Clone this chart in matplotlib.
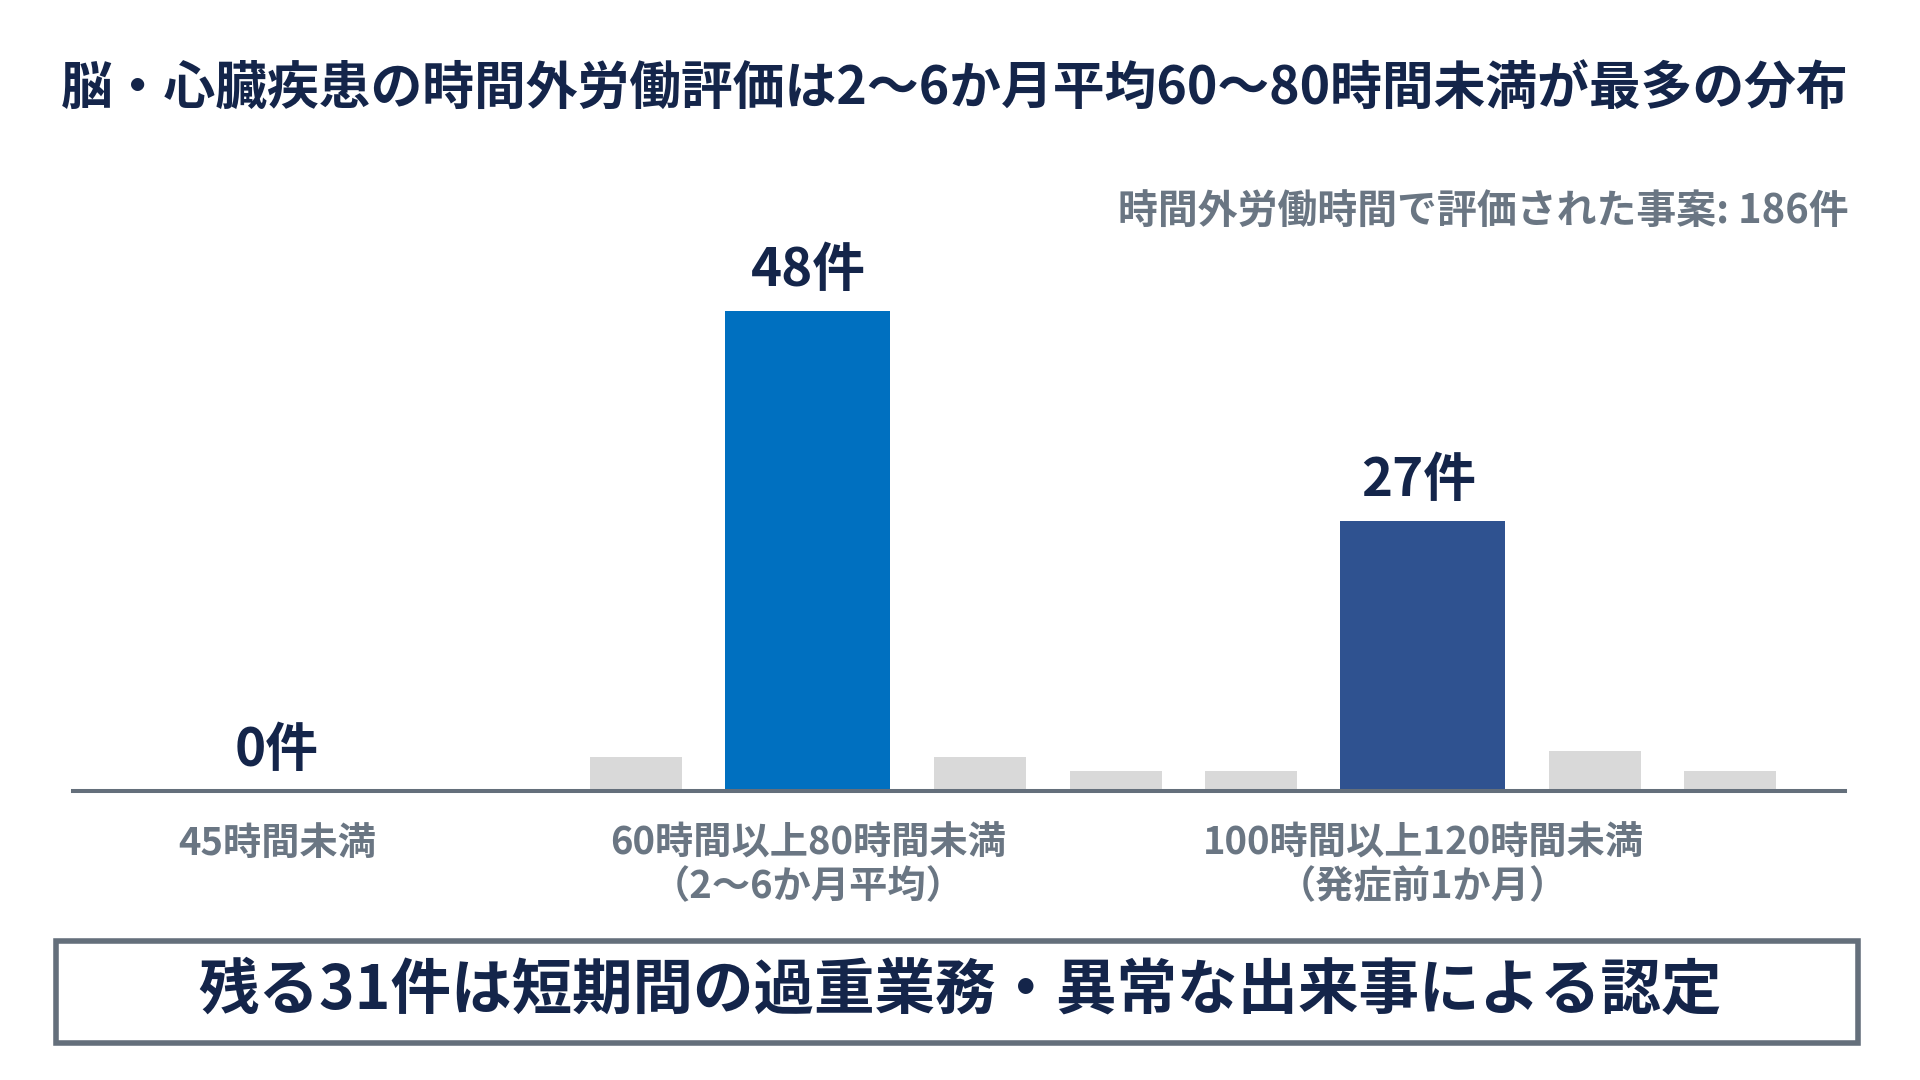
import matplotlib

matplotlib.use("Agg")
import matplotlib.pyplot as plt  # noqa: E402
from matplotlib.patches import Rectangle  # noqa: E402

# --- data -------------------------------------------------------------------
BAR_VALUES = [0, 3.4, 48, 3.4, 2.0, 2.0, 27, 4.0, 2.0]
BAR_ROLE = ["main", "ctx", "main", "ctx", "ctx", "ctx", "main", "ctx", "ctx"]
CATEGORY_LABELS = [
    "45時間未満",
    "60時間以上80時間未満\n（2〜6か月平均）",
    "100時間以上120時間未満\n（発症前1か月）",
]
TITLE = "脳・心臓疾患の時間外労働評価は2〜6か月平均60〜80時間未満が最多の分布"
SUBTITLE = "時間外労働時間で評価された事案: 186件"
FOOTER = "残る31件は短期間の過重業務・異常な出来事による認定"

# --- style ------------------------------------------------------------------
W, H = 1920, 1080
INK = "#14254a"
MUTED = "#6a7683"
LINE = "#646f7b"
CTX = "#d9d9d9"
MAIN_COLOURS = ["#0070c0", "#0070c0", "#2f5290"]
NARROW, WIDE, GAP = 92, 165, 43.5
LEAD_CENTER, CLUSTER_LEFT = 204, 517

plt.rcParams["font.family"] = ["Noto Sans CJK JP", "DejaVu Sans"]
plt.rcParams["font.weight"] = "bold"


def fx(px):
    return px / W


def fy(py):
    return 1 - py / H


def layout(roles):
    centers, widths = [], []
    edge = CLUSTER_LEFT
    for i, role in enumerate(roles):
        w = WIDE if role == "main" else NARROW
        if i == 0:
            centers.append(LEAD_CENTER)
        else:
            centers.append(edge + w / 2)
            edge += w + GAP
        widths.append(w)
    return centers, widths


fig = plt.figure(figsize=(W / 100, H / 100), dpi=100)
fig.patch.set_facecolor("white")

ax_left, ax_right, base_y = 73, 1845, 791
ax = fig.add_axes([fx(ax_left), fy(base_y), (ax_right - ax_left) / W, 500 / H])
ax.set_xlim(0, ax_right - ax_left)
ax.set_ylim(0, 50)
ax.axis("off")

centers, widths = layout(BAR_ROLE)
main_idx = [i for i, r in enumerate(BAR_ROLE) if r == "main"]
colours = []
k = 0
for r in BAR_ROLE:
    if r == "main":
        colours.append(MAIN_COLOURS[k])
        k += 1
    else:
        colours.append(CTX)
ax.bar(centers, BAR_VALUES, width=widths, color=colours, linewidth=0, zorder=2)
ax.axhline(0, color=LINE, lw=2.9, zorder=3, clip_on=False)

for j, i in enumerate(main_idx):
    v = BAR_VALUES[i]
    ax.annotate(f"{v:g}件", (centers[i], v), xytext=(-4 if j == 2 else 0, 14),
                textcoords="offset pixels", ha="center", va="bottom", fontsize=38,
                fontweight="bold", color=INK)
    ax.annotate(CATEGORY_LABELS[j], (centers[i], 0), xytext=(0, -33), textcoords="offset pixels",
                ha="center", va="top", fontsize=27.5, fontweight="bold", color=MUTED,
                linespacing=1.15)

fig.text(fx(61), fy(88), TITLE, ha="left", va="center", fontsize=37.3, fontweight="bold", color=INK)
fig.text(fx(1849), fy(211), SUBTITLE, ha="right", va="center", fontsize=28.7,
         fontweight="bold", color=MUTED)

fig.patches.append(Rectangle((fx(56), fy(1043)), fx(1858) - fx(56), fy(941) - fy(1043),
                             transform=fig.transFigure, facecolor="white", edgecolor=LINE,
                             linewidth=4.0))
fig.text(fx(960), fy(991), FOOTER, ha="center", va="center", fontsize=43.6,
         fontweight="bold", color=INK)

fig.savefig("out.png", dpi=100)
